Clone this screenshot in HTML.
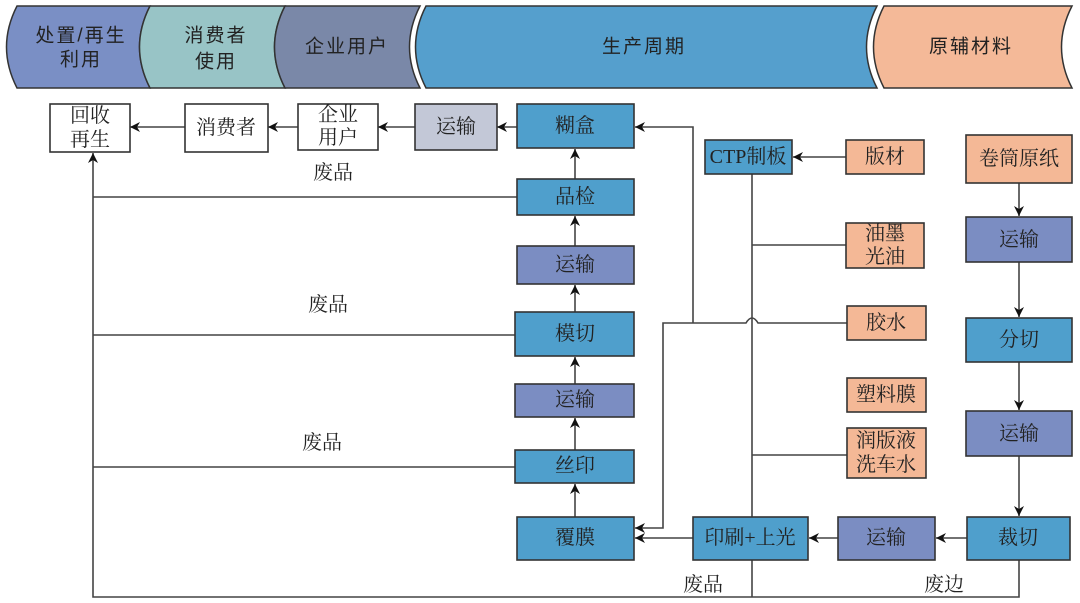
<!DOCTYPE html>
<html><head><meta charset="utf-8"><style>
html,body{margin:0;padding:0;background:#fff;}
svg{display:block;}
text{font-family:"Liberation Serif","Noto Serif CJK SC","Noto Sans CJK SC",serif;font-size:20px;fill:#222;text-anchor:middle;dominant-baseline:central;}
.h{font-family:"Liberation Sans","Noto Sans CJK SC",sans-serif;font-size:19px;letter-spacing:2px;}
.b{stroke:#333;stroke-width:1.6;}
.l{stroke:#444;stroke-width:1.6;fill:none;}
</style></head><body>
<svg width="1080" height="603" viewBox="0 0 1080 603" xmlns="http://www.w3.org/2000/svg">
<defs><marker id="a" viewBox="0 0 10 10" refX="10" refY="5" markerWidth="10" markerHeight="10" markerUnits="userSpaceOnUse" orient="auto"><path d="M0,0 L10,5 L0,10 L3,5 z" fill="#111"/></marker></defs>
<g stroke="#333" stroke-width="1.5">
<path d="M17,6 Q-4,47 17,88 L150,88 Q129,47 150,6 Z" fill="#7a8fc5"/>
<path d="M150,6 Q129,47 150,88 L285,88 Q264,47 285,6 Z" fill="#98c4c6"/>
<path d="M285,6 Q264,47 285,88 L420,88 Q399,47 420,6 Z" fill="#7a88a8"/>
<path d="M426,6 Q405,47 426,88 L877,88 Q856,47 877,6 Z" fill="#559fcd"/>
<path d="M884,6 Q863,47 884,88 L1072,88 Q1051,47 1072,6 Z" fill="#f4b998"/>
</g>
<text class="h" x="81" y="36">处置/再生</text><text class="h" x="81" y="60">利用</text>
<text class="h" x="216" y="36">消费者</text><text class="h" x="216" y="62">使用</text>
<text class="h" x="347" y="47">企业用户</text>
<text class="h" x="644" y="47">生产周期</text>
<text class="h" x="971" y="47">原辅材料</text>
<g class="l">
<line x1="517" y1="127" x2="497" y2="127" marker-end="url(#a)"/>
<line x1="415" y1="127" x2="378" y2="127" marker-end="url(#a)"/>
<line x1="298" y1="127" x2="268" y2="127" marker-end="url(#a)"/>
<line x1="185" y1="127" x2="130" y2="127" marker-end="url(#a)"/>
<line x1="575" y1="179" x2="575" y2="149" marker-end="url(#a)"/>
<line x1="575" y1="246" x2="575" y2="216" marker-end="url(#a)"/>
<line x1="575" y1="312" x2="575" y2="285" marker-end="url(#a)"/>
<line x1="575" y1="384" x2="575" y2="357" marker-end="url(#a)"/>
<line x1="575" y1="450" x2="575" y2="418" marker-end="url(#a)"/>
<line x1="575" y1="517" x2="575" y2="484" marker-end="url(#a)"/>
<line x1="1019" y1="183" x2="1019" y2="216" marker-end="url(#a)"/>
<line x1="1019" y1="262" x2="1019" y2="317" marker-end="url(#a)"/>
<line x1="1019" y1="362" x2="1019" y2="410" marker-end="url(#a)"/>
<line x1="1019" y1="456" x2="1019" y2="516" marker-end="url(#a)"/>
<line x1="693" y1="538" x2="635" y2="538" marker-end="url(#a)"/>
<line x1="838" y1="538" x2="809" y2="538" marker-end="url(#a)"/>
<line x1="967" y1="538" x2="936" y2="538" marker-end="url(#a)"/>
<line x1="846" y1="157" x2="793" y2="157" marker-end="url(#a)"/>
<polyline points="693,323 693,127 635,127" marker-end="url(#a)"/>
<path d="M847,323 L758,323 Q752,313 746,323 L663,323 L663,528 L635,528" marker-end="url(#a)"/>
<line x1="752" y1="174" x2="752" y2="517"/>
<line x1="752" y1="560" x2="752" y2="597"/>
<line x1="752" y1="245" x2="846" y2="245"/>
<line x1="752" y1="455" x2="847" y2="455"/>
<polyline points="1019,560 1019,597 93,597 93,153" marker-end="url(#a)"/>
<line x1="93" y1="197" x2="517" y2="197"/>
<line x1="93" y1="335" x2="515" y2="335"/>
<line x1="93" y1="467" x2="515" y2="467"/>
</g>
<g class="b">
<rect x="50" y="104" width="80" height="48" fill="#fff"/>
<rect x="185" y="104" width="83" height="48" fill="#fff"/>
<rect x="298" y="104" width="80" height="46" fill="#fff"/>
<rect x="415" y="104" width="82" height="46" fill="#c3c8d7"/>
<rect x="517" y="104" width="117" height="44" fill="#4f9fcc"/>
<rect x="517" y="179" width="117" height="36" fill="#4f9fcc"/>
<rect x="517" y="246" width="117" height="38" fill="#7b8dc2"/>
<rect x="515" y="312" width="119" height="44" fill="#4f9fcc"/>
<rect x="515" y="384" width="119" height="33" fill="#7b8dc2"/>
<rect x="515" y="450" width="119" height="33" fill="#4f9fcc"/>
<rect x="517" y="517" width="117" height="43" fill="#4f9fcc"/>
<rect x="693" y="517" width="115" height="43" fill="#4f9fcc"/>
<rect x="838" y="517" width="97" height="43" fill="#7b8dc2"/>
<rect x="967" y="517" width="103" height="43" fill="#4f9fcc"/>
<rect x="705" y="140" width="87" height="34" fill="#4f9fcc"/>
<rect x="846" y="140" width="78" height="34" fill="#f4b896"/>
<rect x="846" y="223" width="78" height="45" fill="#f4b896"/>
<rect x="847" y="306" width="79" height="34" fill="#f4b896"/>
<rect x="847" y="378" width="79" height="34" fill="#f4b896"/>
<rect x="847" y="428" width="79" height="50" fill="#f4b896"/>
<rect x="966" y="135" width="106" height="48" fill="#f4b896"/>
<rect x="966" y="217" width="106" height="45" fill="#7b8dc2"/>
<rect x="966" y="318" width="106" height="44" fill="#4f9fcc"/>
<rect x="966" y="411" width="106" height="45" fill="#7b8dc2"/>
</g>
<text x="90" y="116">回收</text><text x="90" y="140">再生</text>
<text x="226" y="128">消费者</text>
<text x="338" y="115">企业</text><text x="338" y="138">用户</text>
<text x="456" y="127">运输</text>
<text x="575" y="126">糊盒</text>
<text x="575" y="197">品检</text>
<text x="575" y="265">运输</text>
<text x="575" y="334">模切</text>
<text x="575" y="400">运输</text>
<text x="575" y="466">丝印</text>
<text x="575" y="538">覆膜</text>
<text x="750" y="538">印刷+上光</text>
<text x="886" y="538">运输</text>
<text x="1018" y="538">裁切</text>
<text x="748" y="157">CTP制板</text>
<text x="885" y="157">版材</text>
<text x="885" y="234">油墨</text><text x="885" y="257">光油</text>
<text x="886" y="323">胶水</text>
<text x="886" y="395">塑料膜</text>
<text x="886" y="441">润版液</text><text x="886" y="465">洗车水</text>
<text x="1019" y="159">卷筒原纸</text>
<text x="1019" y="240">运输</text>
<text x="1019" y="340">分切</text>
<text x="1019" y="434">运输</text>
<text x="333" y="173">废品</text>
<text x="328" y="305">废品</text>
<text x="322" y="443">废品</text>
<text x="703" y="585">废品</text>
<text x="944" y="585">废边</text>
</svg>
</body></html>
